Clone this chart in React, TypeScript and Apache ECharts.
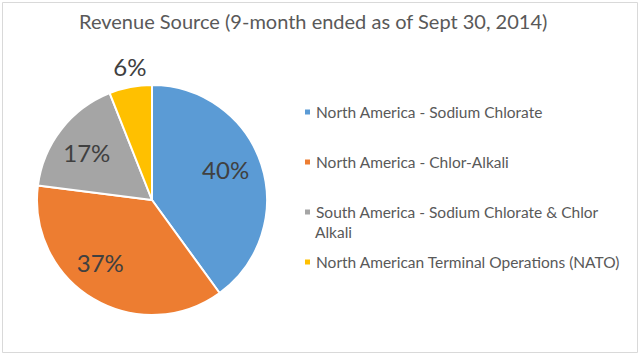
import React, { useEffect, useRef } from "react";
import * as echarts from "echarts";

const titleText = "Revenue Source (9-month ended as of Sept 30, 2014)";
const categories = [
  "North America - Sodium Chlorate",
  "North America - Chlor-Alkali",
  "South America - Sodium Chlorate & Chlor Alkali",
  "North American Terminal Operations (NATO)",
];
const values = [40, 37, 17, 6];
const colors = ["#5B9BD5", "#ED7D31", "#A5A5A5", "#FFC000"];
const legendTops = [104, 154, 204, 254];
// small best-fit nudges of the percentage labels (dx, dy)
const labelNudges = [
  [-2.5, -6],
  [-11, -6],
  [-2, 1.5],
  [3, -2],
];

export default function App() {
  const ref = useRef<HTMLDivElement>(null);
  useEffect(() => {
    if (!ref.current) return;
    const chart = echarts.init(ref.current, null, { renderer: "svg" });
    const font = "Lato";
    const textColor = "#595959";
    const center = [152, 200];
    const legends = categories.map((name, i) => ({
      show: true,
      orient: "vertical" as const,
      left: 303,
      top: legendTops[i],
      padding: 0,
      icon: "rect",
      itemWidth: 7,
      itemHeight: 7,
      selectedMode: false,
      data: [name],
      formatter: (n: string) =>
        n === categories[2] ? "South America - Sodium Chlorate & Chlor" : n,
      textStyle: { fontFamily: font, fontSize: 15.5, color: textColor },
    }));
    const nudge = (p: any) => {
      const d = labelNudges[p.dataIndex] || [0, 0];
      return { dx: d[0], dy: d[1] };
    };
    const labelStyle = {
      show: true,
      position: "inside",
      formatter: "{c}%",
      fontFamily: font,
      fontSize: 24,
      color: "#404040",
    };
    chart.setOption({
      animation: false,
      color: colors,
      title: {
        text: titleText,
        left: 79,
        top: 11,
        padding: 0,
        textStyle: { fontFamily: font, fontSize: 20, fontWeight: "normal", color: textColor },
      },
      legend: legends,
      graphic: [
        {
          type: "rect",
          silent: true,
          shape: { x: 2.5, y: 2.5, width: 635, height: 350 },
          style: { fill: "none", stroke: "#D9D9D9", lineWidth: 1 },
        },
        {
          type: "text",
          left: 315,
          top: 224,
          style: { text: "Alkali", fontFamily: font, fontSize: 15.5, fill: textColor },
        },
      ],
      series: [
        {
          type: "pie",
          center,
          radius: 115,
          startAngle: 90,
          clockwise: true,
          silent: true,
          itemStyle: { borderColor: "#fff", borderWidth: 2 },
          label: { show: false },
          labelLine: { show: false },
          data: categories.map((name, i) => ({ name, value: values[i] })),
        },
        {
          type: "pie",
          center,
          radius: 154,
          startAngle: 90,
          clockwise: true,
          silent: true,
          z: 3,
          itemStyle: { color: "transparent" },
          labelLine: { show: false },
          label: labelStyle,
          labelLayout: nudge,
          data: categories.map((name, i) => ({
            name,
            value: values[i],
            label: { show: i < 3 },
          })),
        },
        {
          type: "pie",
          center,
          radius: 262,
          startAngle: 90,
          clockwise: true,
          silent: true,
          z: 3,
          itemStyle: { color: "transparent" },
          labelLine: { show: false },
          label: labelStyle,
          labelLayout: nudge,
          data: categories.map((name, i) => ({
            name,
            value: values[i],
            label: { show: i === 3 },
          })),
        },
      ],
    });
    return () => chart.dispose();
  }, []);
  return (
    <div
      ref={ref}
      style={{ position: "fixed", left: 0, top: 0, width: 640, height: 355, background: "#fff" }}
    />
  );
}
